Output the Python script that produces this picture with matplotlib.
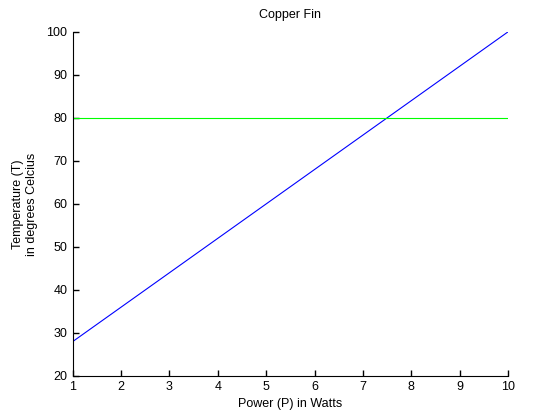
import matplotlib
matplotlib.use("Agg")
import matplotlib.pyplot as plt

# Fin temperature vs. applied power
power = [1, 2, 3, 4, 5, 6, 7, 8, 9, 10]
temperature = [28, 36, 44, 52, 60, 68, 76, 84, 92, 100]
limit_temp = 80

plt.rcParams.update({'font.family': ['Liberation Sans', 'DejaVu Sans'],
                     'font.size': 9})

fig = plt.figure(figsize=(5.6, 4.2), dpi=100)
ax = fig.add_axes([0.13, 0.105, 0.777, 0.819])
ax.plot(power, temperature, color='#0000ff', linewidth=0.8)
ax.axhline(limit_temp, color='#00ff00', linewidth=0.8)

ax.set_xlim(1, 10)
ax.set_ylim(20, 100)
ax.set_xticks(range(1, 11))
ax.set_yticks(range(20, 101, 10))
ax.spines['top'].set_visible(False)
ax.spines['right'].set_visible(False)
ax.tick_params(direction='in', length=4, width=1, pad=4)
ax.set_title("Copper Fin", fontsize=9, pad=10)
ax.set_xlabel("Power (P) in Watts", labelpad=3)
ax.set_ylabel("Temperature (T)\nin degrees Celcius", labelpad=6)

fig.savefig("out.png", dpi=100)
